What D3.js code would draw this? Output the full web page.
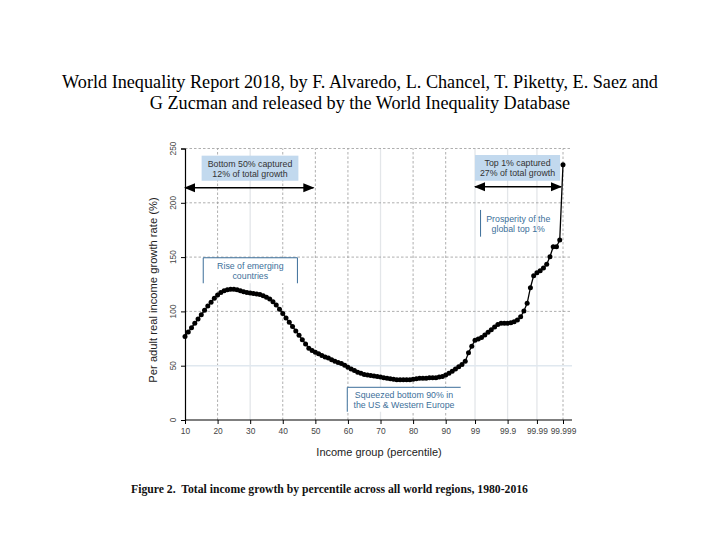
<!DOCTYPE html>
<html>
<head>
<meta charset="utf-8">
<script src="https://cdn.jsdelivr.net/npm/d3@7"></script>
<style>
  body { margin: 0; background: #fff; }
  svg text { font-family: "Liberation Sans", Arial, sans-serif; }
</style>
</head>
<body>
<div id="chart"></div>
<script>
// title lines of the slide
const titleLines = [
    "World Inequality Report 2018, by F. Alvaredo, L. Chancel, T. Piketty, E. Saez and",
    "G Zucman and released by the World Inequality Database"
];
const caption = "Figure 2.  Total income growth by percentile across all world regions, 1980-2016";

// x axis is a rank: p10..p99 one unit each, then the top 1% split into finer groups
const tickRanks = [10, 20, 30, 40, 50, 60, 70, 80, 90, 99, 109, 118, 126];
const tickLabels = ["10", "20", "30", "40", "50", "60", "70", "80", "90", "99", "99.9", "99.99", "99.999"];
const yTicks = [0, 50, 100, 150, 200, 250];

// growth rate (%) 1980-2016, one value per rank starting at rank 10
const growth = [
    77, 81, 85, 89, 93, 97, 101, 105, 108.5, 112,          // p10-p19
    115, 117.5, 119, 120, 120.5, 120.5, 120, 119, 118, 117.5, // p20-p29
    117, 116.5, 116, 115.5, 114.5, 113, 111.5, 109, 106, 102, // p30-p39
    98, 94, 90, 86, 82, 78, 74, 70, 66, 64,                 // p40-p49
    62.5, 61, 59.5, 58, 57, 55.5, 54, 53, 52, 50.5,         // p50-p59
    48.5, 47, 45.5, 44, 43, 42, 41.5, 41, 40.5, 40,         // p60-p69
    39.5, 39, 38.5, 38, 37.5, 37, 37, 37, 37, 37,           // p70-p79
    37.5, 38, 38.5, 38.5, 38.5, 39, 39, 39, 39.5, 40,       // p80-p89
    41.5, 43, 45, 47, 49, 51, 54, 62, 68,                   // p90-p98
    73.5, 74.6, 76, 78.3, 80.7, 83.2, 85.6, 88, 89, 89,     // p99 ...
    89, 89.6, 90.5, 92, 95, 100.4, 107.4, 121.8, 132.9, 135.6,
    137.5, 140, 143.4, 150.4, 159.6, 159.6, 165.7, 235
];

const boxes = [
    {lines: ["Bottom 50% captured", "12% of total growth"], x0: 15.1, x1: 44.8, y0: 243.4, y1: 220.3, kind: "fill"},
    {lines: ["Top 1% captured", "27% of total growth"], x0: 99, x1: 125.1, y0: 244, y1: 220.3, kind: "fill"},
    {lines: ["Rise of emerging", "countries"], x0: 15.6, x1: 44.5, y0: 149.4, y1: 125.9, kind: "bracket"},
    {lines: ["Squeezed bottom 90% in", "the US & Western Europe"], x0: 59.8, x1: 94.6, y0: 30.1, y1: 7.6, kind: "side"},
    {lines: ["Prosperity of the", "global top 1%"], x0: 100.7, x1: 122, y0: 193.4, y1: 168.8, kind: "left"}
];
const arrows = [
    {x0: 10, x1: 49.4, y: 213.9},
    {x0: 99, x1: 125.4, y: 214.8}
];

const width = 720, height = 540;
const svg = d3.select("#chart").append("svg")
    .attr("width", width)
    .attr("height", height);

// slide title
svg.append("g").selectAll("text")
    .data(titleLines)
    .enter().append("text")
    .attr("x", 360)
    .attr("y", (d, i) => 88 + i * 20.5)
    .attr("text-anchor", "middle")
    .style("font-family", "'Liberation Serif', 'Times New Roman', serif")
    .style("font-size", "18.2px")
    .attr("fill", "#000")
    .text(d => d);

let x = d3.scaleLinear().domain([10, 126]).range([185, 563]);
let y = d3.scaleLinear().domain([0, 250]).range([420, 148.5]);
const xEnd = 572;

// grid
const lightX = [30, 70, 99, 109, 118];
svg.append("g").selectAll("line")
    .data(tickRanks.slice(1))
    .enter().append("line")
    .attr("x1", d => x(d)).attr("x2", d => x(d))
    .attr("y1", y(0)).attr("y2", y(250))
    .attr("stroke", d => lightX.includes(d) ? "#e3e6e9" : "#9a9a9a")
    .attr("stroke-width", d => lightX.includes(d) ? 1.3 : 0.8)
    .attr("stroke-dasharray", d => lightX.includes(d) ? null : "2.5,2");
svg.append("g").selectAll("line")
    .data(yTicks.slice(1))
    .enter().append("line")
    .attr("x1", x(10)).attr("x2", xEnd)
    .attr("y1", d => y(d)).attr("y2", d => y(d))
    .attr("stroke", d => d === 50 ? "#e0e8ef" : "#9a9a9a")
    .attr("stroke-width", d => d === 50 ? 1.5 : 0.8)
    .attr("stroke-dasharray", d => d === 50 ? null : "2.5,2");

// axes
let xAxis = d3.axisBottom(x)
    .tickValues(tickRanks)
    .tickFormat((d, i) => tickLabels[i])
    .tickSize(4)
    .tickPadding(4);
let gx = svg.append("g")
    .attr("class", "axis x-axis")
    .attr("transform", `translate(0, ${y(0)})`)
    .call(xAxis);
gx.select(".domain").remove();
gx.append("line").attr("x1", x(10)).attr("x2", xEnd).attr("stroke", "#000").attr("stroke-width", 1.2);
gx.selectAll("text").attr("fill", "#444").style("font-size", "8.4px");
gx.selectAll(".tick line").attr("stroke", "#000");

let yAxis = d3.axisLeft(y).tickValues(yTicks).tickSize(4).tickFormat("");
let gy = svg.append("g")
    .attr("class", "axis y-axis")
    .attr("transform", `translate(${x(10)}, 0)`)
    .call(yAxis);
gy.select(".domain").attr("stroke-width", 1.2);
svg.append("g").selectAll("text")
    .data(yTicks)
    .enter().append("text")
    .attr("transform", d => `translate(176, ${y(d)}) rotate(-90)`)
    .attr("text-anchor", "middle")
    .attr("fill", "#444")
    .style("font-size", "8.4px")
    .text(d => d);

svg.append("text")
    .attr("transform", `translate(156.5, 290) rotate(-90)`)
    .attr("text-anchor", "middle")
    .attr("fill", "#222")
    .style("font-size", "11.2px")
    .text("Per adult real income growth rate (%)");
svg.append("text")
    .attr("x", 379).attr("y", 456)
    .attr("text-anchor", "middle")
    .attr("fill", "#222")
    .style("font-size", "11px")
    .text("Income group (percentile)");

// annotations
const blue = "#3c6f9a";
boxes.forEach(b => {
    let g = svg.append("g");
    let bx0 = x(b.x0), bx1 = x(b.x1), by0 = y(b.y0), by1 = y(b.y1);
    if (b.kind === "fill") {
        g.append("rect").attr("x", bx0).attr("y", by0)
            .attr("width", bx1 - bx0).attr("height", by1 - by0)
            .attr("fill", "#c2d9ee");
    } else if (b.kind === "bracket") {
        g.append("path")
            .attr("d", `M${bx0},${by1}V${by0}H${bx1}V${by1}`)
            .attr("fill", "#fff").attr("stroke", blue).attr("stroke-width", 1);
    } else if (b.kind === "side") {
        g.append("rect").attr("x", bx0).attr("y", by0)
            .attr("width", bx1 - bx0).attr("height", by1 - by0).attr("fill", "#fff");
        g.append("path")
            .attr("d", `M${bx0},${by1}V${by0}H${bx1}`)
            .attr("fill", "none").attr("stroke", blue).attr("stroke-width", 1);
    } else {
        g.append("path")
            .attr("d", `M${bx0},${by1}V${by0}`)
            .attr("stroke", blue).attr("stroke-width", 1);
    }
    let cx = (bx0 + bx1) / 2 + (b.kind === "left" ? 3 : 0);
    g.selectAll("text").data(b.lines).enter().append("text")
        .attr("x", cx)
        .attr("y", (d, i) => (by0 + by1) / 2 - 1.5 + i * 9.8)
        .attr("text-anchor", "middle")
        .attr("fill", b.kind === "fill" ? "#333" : blue)
        .style("font-size", "8.8px")
        .text(d => d);
});

svg.append("defs").append("marker")
    .attr("id", "head")
    .attr("viewBox", "0 0 10 10")
    .attr("refX", 9).attr("refY", 5)
    .attr("markerWidth", 7).attr("markerHeight", 7)
    .attr("orient", "auto-start-reverse")
    .append("path").attr("d", "M0,1L10,5L0,9Z").attr("fill", "#000");
svg.append("g").selectAll("line")
    .data(arrows)
    .enter().append("line")
    .attr("x1", d => x(d.x0)).attr("x2", d => x(d.x1))
    .attr("y1", d => y(d.y)).attr("y2", d => y(d.y))
    .attr("stroke", "#000").attr("stroke-width", 1.6)
    .attr("marker-start", "url(#head)")
    .attr("marker-end", "url(#head)");

// growth curve
let line = d3.line()
    .x((d, i) => x(10 + i))
    .y(d => y(d));
svg.append("path")
    .datum(growth)
    .attr("d", line)
    .attr("fill", "none")
    .attr("stroke", "#000")
    .attr("stroke-width", 1.3);
svg.append("g").selectAll("circle")
    .data(growth)
    .enter().append("circle")
    .attr("cx", (d, i) => x(10 + i))
    .attr("cy", d => y(d))
    .attr("r", 2.5)
    .attr("fill", "#000");

// figure caption
svg.append("text")
    .attr("x", 131).attr("y", 493)
    .style("font-family", "'Liberation Serif', 'Times New Roman', serif")
    .style("font-weight", "bold")
    .style("font-size", "11.7px")
    .attr("fill", "#111")
    .attr("xml:space", "preserve")
    .text(caption);
</script>
</body>
</html>
